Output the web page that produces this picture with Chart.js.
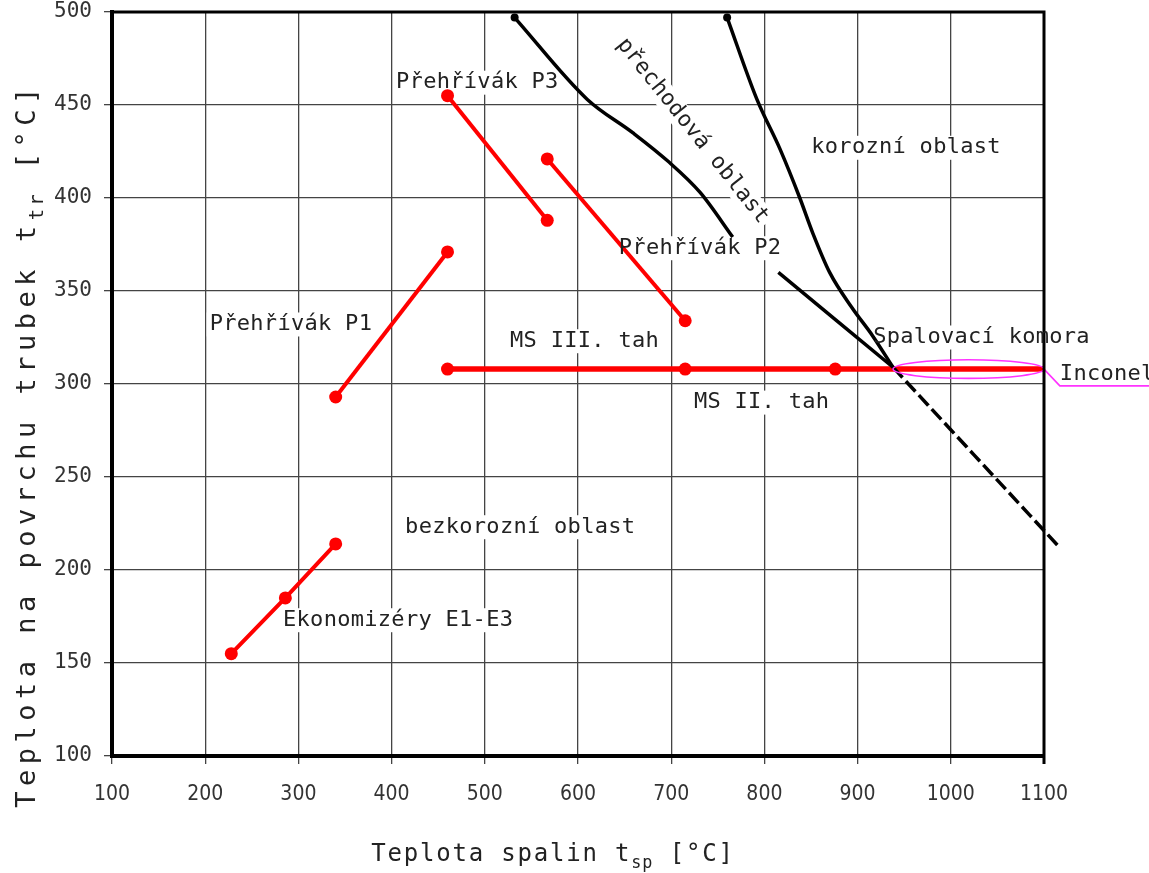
<!DOCTYPE html>
<html>
<head>
<meta charset="utf-8">
<script src="https://cdn.jsdelivr.net/npm/chart.js@4/dist/chart.umd.min.js"></script>
<style>
html, body { margin: 0; padding: 0; background: #fff; }
</style>
</head>
<body>
<canvas id="chart" width="1149" height="873"></canvas>
<script>
// teplota spalin (x) a teplota povrchu trubek (y), °C
const ekonomizeryX = [228, 286, 340];
const ekonomizeryY = [155, 185, 214];
const prehrivakP1X = [340, 460];
const prehrivakP1Y = [293, 371];
const prehrivakP3X = [460, 567];
const prehrivakP3Y = [455, 388];
const prehrivakP2X = [567, 715];
const prehrivakP2Y = [421, 334];
const msTahX = [460, 715, 876, 1100];
const msTahY = [308, 308, 308, 308];

// hranice oblasti
const prechodX = [532, 610, 659, 696, 731, 766];
const prechodY = [497, 453, 435, 420, 403, 379];
const korozeX = [760, 792, 817, 838, 852, 870, 894, 916, 938];
const korozeY = [497, 453, 426, 400, 381, 360, 341, 326, 309];
const komoraX = [815, 938];
const komoraY = [360, 309];
const komoraDashX = [938, 1117];
const komoraDashY = [309, 212];

// Inconel - oblast a odkaz
const inconelFrom = 938;
const inconelTo = 1100;
const inconelAt = 308;
const inconelLeaderX = [1215, 1117, 1100];
const inconelLeaderY = [299, 299, 308];

const xTickValues = [100, 200, 300, 400, 500, 600, 700, 800, 900, 1000, 1100];
const yTickValues = [100, 150, 200, 250, 300, 350, 400, 450, 500];

const notes = [
    { text: "Přehřívák P3", x: 492, y: 462 },
    { text: "přechodová oblast", x: 723, y: 436, angle: 51.5 },
    { text: "korozní oblast", x: 952, y: 427 },
    { text: "Přehřívák P2", x: 731, y: 373 },
    { text: "Přehřívák P1", x: 292, y: 332 },
    { text: "Spalovací komora", x: 1033, y: 325 },
    { text: "MS III. tah", x: 607, y: 323 },
    { text: "MS II. tah", x: 797, y: 290 },
    { text: "bezkorozní oblast", x: 538, y: 223 },
    { text: "Ekonomizéry E1-E3", x: 407, y: 173 },
    { text: "Inconel", x: 1117, y: 305, align: "left" }
];

const MONO = '"DejaVu Sans Mono", monospace';

function pts(xs, ys) {
    return xs.map((x, i) => ({ x: x, y: ys[i] }));
}

function redLine(xs, ys, width, radii) {
    return {
        data: pts(xs, ys),
        showLine: true,
        borderColor: "#ff0000",
        backgroundColor: "#ff0000",
        borderWidth: width,
        pointRadius: radii || 6.5,
        pointBorderWidth: 0,
        pointBackgroundColor: "#ff0000"
    };
}

function blackLine(xs, ys, radii) {
    return {
        data: pts(xs, ys),
        showLine: true,
        borderColor: "#000",
        backgroundColor: "#000",
        borderWidth: 3.5,
        cubicInterpolationMode: "monotone",
        pointRadius: radii || 0,
        pointBorderWidth: 0,
        pointBackgroundColor: "#000"
    };
}

function setSpacing(ctx, px) {
    if ("letterSpacing" in ctx) ctx.letterSpacing = px + "px";
}

function drawRich(ctx, parts, size, spacing) {
    const widths = parts.map(p => {
        ctx.font = (p.sub ? size * 0.7 : size) + "px " + MONO;
        setSpacing(ctx, p.sub ? spacing * 0.6 : spacing);
        return ctx.measureText(p.t).width;
    });
    let x = -widths.reduce((a, b) => a + b, 0) / 2;
    ctx.textAlign = "left";
    ctx.textBaseline = "middle";
    parts.forEach((p, i) => {
        ctx.font = (p.sub ? size * 0.7 : size) + "px " + MONO;
        setSpacing(ctx, p.sub ? spacing * 0.6 : spacing);
        ctx.fillText(p.t, x, p.sub ? size * 0.38 : 0);
        x += widths[i];
    });
}

const notesPlugin = {
    id: "notes",
    beforeDatasetsDraw(chart) {
        const ctx = chart.ctx;
        const sx = chart.scales.x, sy = chart.scales.y;
        ctx.save();
        ctx.font = "22px " + MONO;
        setSpacing(ctx, 0.3);
        ctx.fillStyle = "#fff";
        notes.forEach(n => {
            const w = ctx.measureText(n.text).width + 6;
            ctx.save();
            ctx.translate(sx.getPixelForValue(n.x), sy.getPixelForValue(n.y));
            ctx.rotate((n.angle || 0) * Math.PI / 180);
            if (n.align === "left") ctx.fillRect(-3, -12, w, 24);
            else ctx.fillRect(-w / 2, -12, w, 24);
            ctx.restore();
        });
        ctx.restore();
    },
    afterDatasetsDraw(chart) {
        const ctx = chart.ctx;
        const sx = chart.scales.x, sy = chart.scales.y;
        const area = chart.chartArea;

        // Inconel ellipse
        const x1 = sx.getPixelForValue(inconelFrom);
        const x2 = sx.getPixelForValue(inconelTo);
        const yc = sy.getPixelForValue(inconelAt);
        const ry = Math.abs(sy.getPixelForValue(inconelAt + 5) - yc);
        ctx.save();
        ctx.strokeStyle = "#ff33ff";
        ctx.lineWidth = 1.6;
        ctx.beginPath();
        ctx.ellipse((x1 + x2) / 2, yc, (x2 - x1) / 2, ry, 0, 0, Math.PI * 2);
        ctx.stroke();
        ctx.restore();

        // frame top and right
        ctx.save();
        ctx.strokeStyle = "#000";
        ctx.lineWidth = 3;
        ctx.beginPath();
        ctx.moveTo(area.left - 2, area.top);
        ctx.lineTo(area.right, area.top);
        ctx.lineTo(area.right, area.bottom + 8);
        ctx.stroke();
        ctx.restore();

        // labels
        ctx.save();
        ctx.font = "22px " + MONO;
        setSpacing(ctx, 0.3);
        ctx.fillStyle = "#222";
        ctx.textBaseline = "middle";
        notes.forEach(n => {
            ctx.save();
            ctx.translate(sx.getPixelForValue(n.x), sy.getPixelForValue(n.y));
            ctx.rotate((n.angle || 0) * Math.PI / 180);
            ctx.textAlign = n.align === "left" ? "left" : "center";
            ctx.fillText(n.text, 0, 0);
            ctx.restore();
        });
        ctx.restore();
    },
    afterDraw(chart) {
        const ctx = chart.ctx;
        ctx.save();
        ctx.fillStyle = "#222";
        ctx.translate(553, 855);
        drawRich(ctx, [
            { t: "Teplota spalin t" },
            { t: "sp", sub: true },
            { t: " [°C]" }
        ], 24, 1.8);
        ctx.restore();

        ctx.save();
        ctx.fillStyle = "#222";
        ctx.translate(28, 445);
        ctx.rotate(-Math.PI / 2);
        drawRich(ctx, [
            { t: "Teplota na povrchu trubek t" },
            { t: "tr", sub: true },
            { t: " [°C]" }
        ], 27, 5.5);
        ctx.restore();
    }
};

const dashed = blackLine(komoraDashX, komoraDashY);
dashed.borderDash = [14, 5];
dashed.clip = false;

const leader = {
    data: pts(inconelLeaderX, inconelLeaderY),
    showLine: true,
    borderColor: "#ff33ff",
    borderWidth: 1.6,
    pointRadius: 0,
    clip: false
};

new Chart(document.getElementById("chart"), {
    type: "scatter",
    data: {
        datasets: [
            blackLine(prechodX, prechodY, [4, 0, 0, 0, 0, 0]),
            blackLine(korozeX, korozeY, [4, 0, 0, 0, 0, 0, 0, 0, 0]),
            blackLine(komoraX, komoraY),
            dashed,
            leader,
            redLine(ekonomizeryX, ekonomizeryY, 4),
            redLine(prehrivakP1X, prehrivakP1Y, 4),
            redLine(prehrivakP3X, prehrivakP3Y, 4),
            redLine(prehrivakP2X, prehrivakP2Y, 4),
            redLine(msTahX, msTahY, 5.5, [6.5, 6.5, 6.5, 0])
        ]
    },
    options: {
        responsive: false,
        devicePixelRatio: 1,
        animation: false,
        layout: {
            padding: { top: 12, right: 105, left: 0, bottom: 0 }
        },
        plugins: {
            legend: { display: false },
            tooltip: { enabled: false }
        },
        scales: {
            x: {
                type: "linear",
                min: 100,
                max: 1100,
                afterBuildTicks: s => { s.ticks = xTickValues.map(v => ({ value: v })); },
                afterFit: s => {
                    s.height = 117;
                    s.paddingLeft = 0;
                    s.paddingRight = 0;
                },
                grid: { color: "#444", lineWidth: 1.3, tickLength: 8, tickColor: "#444" },
                border: { color: "#000", width: 4 },
                ticks: {
                    font: { family: '"Liberation Sans Narrow", "DejaVu Sans Condensed", sans-serif', size: 21 },
                    color: "#333",
                    padding: 18,
                    maxRotation: 0,
                    autoSkip: false,
                    callback: v => String(v)
                }
            },
            y: {
                type: "linear",
                min: 100,
                max: 500,
                afterBuildTicks: s => { s.ticks = yTickValues.map(v => ({ value: v })); },
                afterFit: s => {
                    s.width = 112;
                    s.paddingTop = 0;
                    s.paddingBottom = 0;
                },
                grid: { color: "#444", lineWidth: 1.3, tickLength: 8, tickColor: "#444" },
                border: { color: "#000", width: 4 },
                ticks: {
                    font: { family: MONO, size: 21 },
                    color: "#333",
                    padding: 12,
                    autoSkip: false,
                    callback: v => String(v)
                }
            }
        }
    },
    plugins: [notesPlugin]
});
</script>
</body>
</html>
